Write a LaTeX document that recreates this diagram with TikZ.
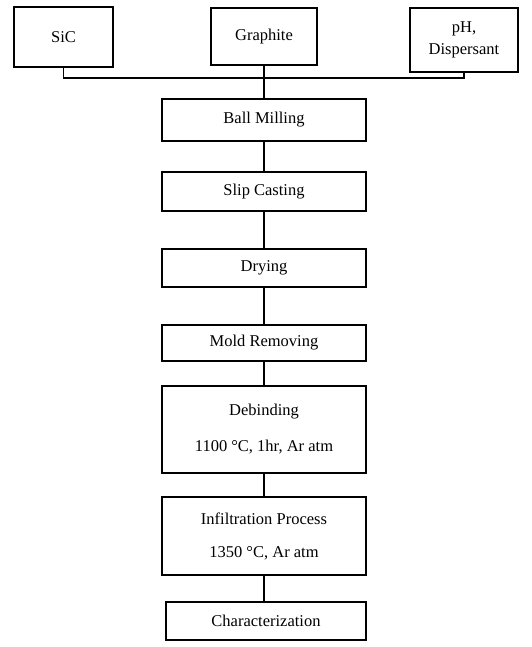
\documentclass[tikz,border=0pt]{standalone}
\usepackage{fontspec}
\setmainfont{Liberation Serif}
\begin{document}
\begin{tikzpicture}[x=1pt, y=-1pt, line width=1.3pt,
    box/.style={draw, inner sep=0pt, font=\fontsize{16.5}{19}\selectfont, align=center},
    stage/.style={box, minimum width=204pt}]
\useasboundingbox (0,0) rectangle (531,647);

% raw materials
\node[box, minimum width=99pt, minimum height=60pt] (sic) at (63.5,37) {SiC};
\node[box, minimum width=106pt, minimum height=57pt] (graphite) at (264,36.5) {Graphite};
\node[box, minimum width=108pt, minimum height=64pt] (ph) at (464,40) {pH,\\[3pt]Dispersant};

% process steps
\node[stage, minimum height=42pt] (milling) at (264,120) {Ball Milling};
\node[stage, minimum height=39pt] (casting) at (264,191.5) {Slip Casting};
\node[stage, minimum height=38pt] (drying) at (264,268) {Drying};
\node[stage, minimum height=36pt] (mold) at (264,343) {Mold Removing};
\node[stage, minimum height=87pt] (debind) at (264,429.5) {Debinding\\[17pt]1100 °C, 1hr, Ar atm};
\node[stage, minimum height=78pt] (infil) at (264,536) {Infiltration Process\\[14pt]1350 °C, Ar atm};
\node[stage, minimum width=200pt, minimum height=38pt] (charac) at (266,621) {Characterization};

% connectors
\coordinate (bus) at (264,78);
\draw (sic.south) |- (bus) -| (ph.south);
\draw (graphite.south) -- (milling.north);
\draw (milling.south) -- (casting.north);
\draw (casting.south) -- (drying.north);
\draw (drying.south) -- (mold.north);
\draw (mold.south) -- (debind.north);
\draw (debind.south) -- (infil.north);
\draw (infil.south) -- (infil.south |- charac.north);
\end{tikzpicture}
\end{document}
